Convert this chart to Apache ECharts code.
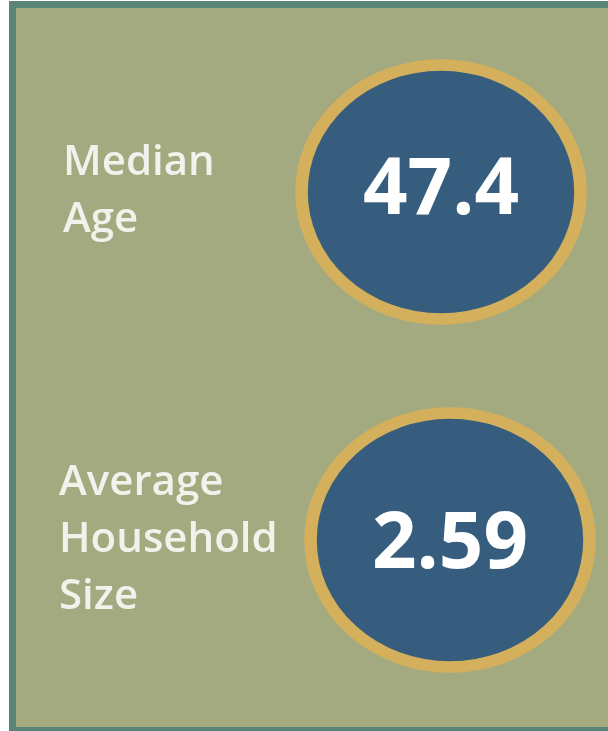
<!DOCTYPE html>
<html lang="en">
<head>
    <meta charset="UTF-8">
    <title>Median Age / Household Size</title>
    <script src="https://cdn.jsdelivr.net/npm/echarts@6/dist/echarts.min.js"></script>
    <style>
        html, body { margin: 0; padding: 0; background: #fff; overflow: hidden; }
        #frame {
            position: absolute; left: 9px; top: 1px;
            width: 620px; height: 719px;
            border: 7px solid #5a8477;
            background: #a3aa80;
        }
        #main { position: absolute; left: 0; top: 0; width: 608px; height: 731px; }
    </style>
</head>
<body>
<div id="frame"></div>
<div id="main"></div>
<script>
    // stat labels and their values
    var labels = ['Median\nAge', 'Average\nHousehold\nSize'];
    var values = [47.4, 2.59];
    var decimals = [1, 2];

    var chart = echarts.init(document.getElementById('main'));

    // small per-item nudges so the discs sit like the reference
    var nudge = [[-4, 0], [5, 0]];
    var labelPad = [[0, 0, 40, 4], [0, 0, 0, 0]];

    var points = values.map(function (v, i) {
        return {
            value: [0, i, v],
            symbolOffset: nudge[i],
            label: { offset: [0, i === 1 ? 6 : 0] }
        };
    });

    chart.setOption({
        backgroundColor: 'transparent',
        animation: false,
        grid: {
            left: 300, right: 18, top: 18, bottom: 17,
            containLabel: false,
            outerBoundsMode: 'none'
        },
        xAxis: {
            type: 'category',
            data: ['v'],
            show: false
        },
        yAxis: {
            type: 'category',
            inverse: true,
            data: labels.map(function (l, i) {
                return { value: l, textStyle: { padding: labelPad[i], align: 'left' } };
            }),
            axisLine: { show: false },
            axisTick: { show: false },
            splitLine: { show: false },
            axisLabel: {
                align: 'left',
                margin: 241,
                color: '#f2f1ec',
                fontFamily: 'Open Sans',
                fontWeight: 600,
                fontSize: 42,
                lineHeight: 57
            }
        },
        series: [{
            type: 'scatter',
            symbol: 'circle',
            symbolSize: [279, 254],
            itemStyle: {
                color: '#365d7d',
                borderColor: '#d4b05c',
                borderWidth: 12,
                opacity: 1
            },
            label: {
                show: true,
                position: 'inside',
                color: '#ffffff',
                fontFamily: 'Open Sans',
                fontWeight: 'bold',
                fontSize: 78,
                formatter: function (p) {
                    return p.value[2].toFixed(decimals[p.dataIndex]);
                }
            },
            emphasis: { disabled: true },
            data: points
        }]
    });
</script>
</body>
</html>
